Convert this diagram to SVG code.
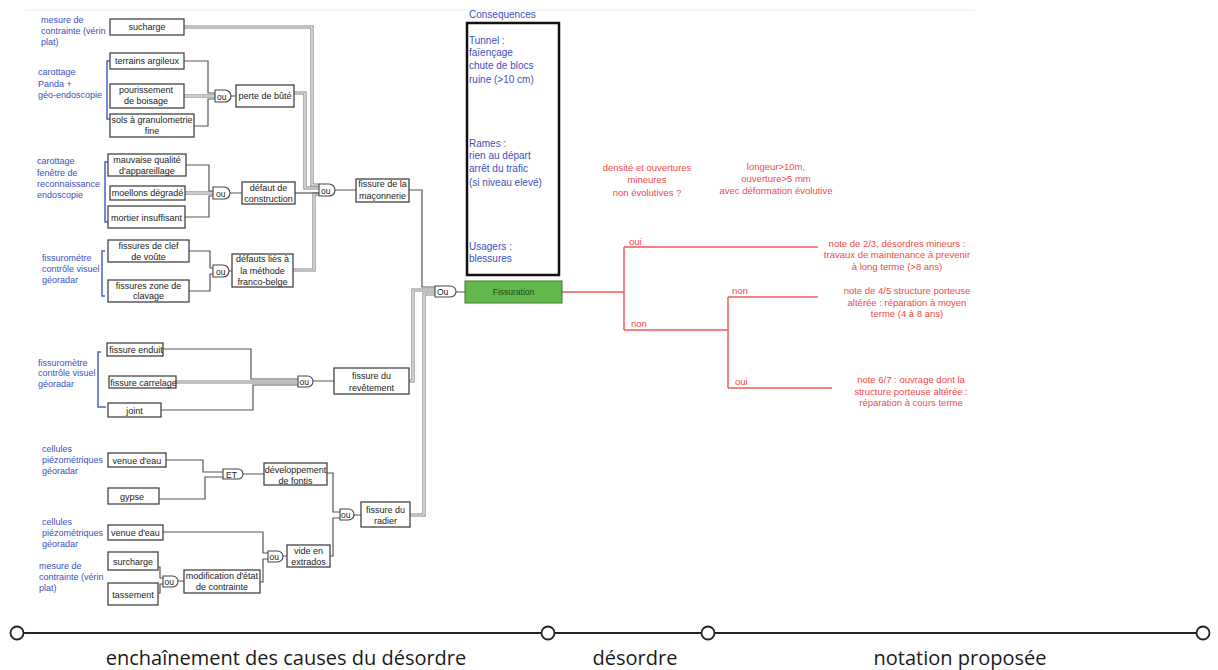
<svg xmlns="http://www.w3.org/2000/svg" xmlns:xlink="http://www.w3.org/1999/xlink" width="1218" height="670" viewBox="0 0 1218 670">
<style>
.bx{fill:#fff;stroke:#444;stroke-width:1.3}
.bt{font-family:"Liberation Sans",Arial,sans-serif;font-size:9px;fill:#222;text-anchor:middle}
.bl{font-family:"Liberation Sans",Arial,sans-serif;font-size:9px;fill:#3d4fbf}
.cq{font-family:"Liberation Sans",Arial,sans-serif;font-size:10px;fill:#3d4fbf}
.rd{font-family:"Liberation Sans",Arial,sans-serif;font-size:9.5px;fill:#f04848;text-anchor:middle}
.rl{font-family:"Liberation Sans",Arial,sans-serif;font-size:9.5px;fill:#f04848}
.gt{fill:#fff;stroke:#444;stroke-width:1.1}
.gx{font-family:"Liberation Sans",Arial,sans-serif;font-size:8.5px;fill:#222}
.c{fill:none;stroke:#555;stroke-width:1.2}
.do{fill:none;stroke:#808080;stroke-width:3.2}
.di{fill:none;stroke:#fff;stroke-width:1.2}
.br{fill:none;stroke:#4a62c8;stroke-width:1.5}
.r{fill:none;stroke:#f05a5a;stroke-width:1.5}
.tl{font-family:"Open Sans","Noto Sans",sans-serif;font-size:20px;fill:#1a1a1a;text-anchor:middle}
</style>
<defs>
  <path id="d1" d="M184 27 H312 V185 H319"/>
  <path id="d2" d="M184 96 H215"/>
  <path id="d3" d="M294 93 H305 V188 H319"/>
  <path id="d4" d="M185 193 H213"/>
  <path id="d5" d="M293 270 H314 V194 H319"/>
  <path id="d6" d="M176 382 H298"/>
  <path id="d7" d="M409 381 H413 V290 H435"/>
  <path id="d8" d="M410 515 H424 V294 H435"/>
</defs>
<line x1="25" y1="10" x2="975" y2="10" stroke="#ececec" stroke-width="1"/>

<g id="connectors">
  <use xlink:href="#d1" class="do"/>
  <use xlink:href="#d2" class="do"/>
  <use xlink:href="#d3" class="do"/>
  <use xlink:href="#d4" class="do"/>
  <use xlink:href="#d5" class="do"/>
  <use xlink:href="#d6" class="do"/>
  <use xlink:href="#d7" class="do"/>
  <use xlink:href="#d8" class="do"/>
  <use xlink:href="#d1" class="di"/>
  <use xlink:href="#d2" class="di"/>
  <use xlink:href="#d3" class="di"/>
  <use xlink:href="#d4" class="di"/>
  <use xlink:href="#d5" class="di"/>
  <use xlink:href="#d6" class="di"/>
  <use xlink:href="#d7" class="di"/>
  <use xlink:href="#d8" class="di"/>
  <path class="c" d="M184 61 H208 V93 H215"/>
  <path class="c" d="M194 126 H208 V99 H215"/>
  <path class="c" d="M186 165 H209 V191 H213"/>
  <path class="c" d="M185 217 H209 V196 H213"/>
  <path class="c" d="M295 193 H319"/>
  <path class="c" d="M189 251 H210 V268 H213"/>
  <path class="c" d="M189 291 H210 V274 H213"/>
  <path class="c" d="M409 190 H422 V287 H435"/>
  <path class="c" d="M163 349 H251 V379 H298"/>
  <path class="c" d="M161 410 H253 V385 H298"/>
  <path class="c" d="M166 460 H203 V472 H223"/>
  <path class="c" d="M159 499 H205 V477 H223"/>
  <path class="c" d="M327 473 H333 V512 H340"/>
  <path class="c" d="M330 556 H333 V518 H340"/>
  <path class="c" d="M163 532 H263 V553 H268"/>
  <path class="c" d="M260 582 H263 V559 H268"/>
  <path class="c" d="M158 567 H160 V578 H163"/>
  <path class="c" d="M158 593 H160 V584 H163"/>
  <path class="c" d="M231 96 H236 M230 193 H242 M229 271 H232 M335 190 H356 M313 381 H334 M456 292 H465 M243 474 H264 M354 515 H361 M283 556 H287 M178 581 H184"/>
  <path class="br" d="M110 61 H107 V119 H110"/>
  <path class="br" d="M108 162 H105 V222 H108"/>
  <path class="br" d="M105 251 H102 V296 H105"/>
  <path class="br" d="M101 352 H98 V407 H106"/>
  <path class="r" d="M562 292 H624 M624 247 V330 M624 247 H818 M624 330 H728 M728 297 V388 M728 297 H818 M728 388 H832"/>
</g>

<g id="labels-blue">
  <text class="bl" x="41" y="22.5">mesure de</text>
  <text class="bl" x="41" y="33.5">contrainte (vérin</text>
  <text class="bl" x="41" y="44.5">plat)</text>
  <text class="bl" x="38" y="75">carottage</text>
  <text class="bl" x="38" y="86.5">Panda +</text>
  <text class="bl" x="38" y="98">géo-endoscopie</text>
  <text class="bl" x="37" y="164">carottage</text>
  <text class="bl" x="37" y="175.5">fenêtre de</text>
  <text class="bl" x="37" y="187">reconnaissance</text>
  <text class="bl" x="37" y="197.5">endoscopie</text>
  <text class="bl" x="42" y="261">fissurométre</text>
  <text class="bl" x="42" y="272">contrôle visuel</text>
  <text class="bl" x="42" y="282.5">géoradar</text>
  <text class="bl" x="38" y="365.5">fissuromètre</text>
  <text class="bl" x="38" y="376">contrôle visuel</text>
  <text class="bl" x="38" y="387">géoradar</text>
  <text class="bl" x="42" y="451.5">cellules</text>
  <text class="bl" x="42" y="462.5">piézométriques</text>
  <text class="bl" x="42" y="474">géoradar</text>
  <text class="bl" x="42" y="525">cellules</text>
  <text class="bl" x="42" y="536">piézométriques</text>
  <text class="bl" x="42" y="546.5">géoradar</text>
  <text class="bl" x="39" y="569">mesure de</text>
  <text class="bl" x="39" y="580">contrainte (vérin</text>
  <text class="bl" x="39" y="591">plat)</text>
</g>

<g id="n-sucharge"><rect class="bx" x="110" y="19" width="74" height="16"/><text class="bt" x="147" y="30">sucharge</text></g>
<g id="n-terrains"><rect class="bx" x="110" y="53" width="74" height="16"/><text class="bt" x="147" y="64">terrains argileux</text></g>
<g id="n-pourissement"><rect class="bx" x="110" y="84" width="74" height="24"/><text class="bt" x="146" y="92.5">pourissement</text><text class="bt" x="146" y="104">de boisage</text></g>
<g id="n-sols"><rect class="bx" x="110" y="114" width="84" height="23"/><text class="bt" x="152" y="123">sols à granulometrie</text><text class="bt" x="152" y="134">fine</text></g>
<g id="g-perte"><path class="gt" d="M215 90 H225 A6 6 0 0 1 225 102 H215 Z"/><text class="gx" x="217" y="99.5">ou</text></g>
<g id="n-perte"><rect class="bx" x="236" y="85" width="58" height="22"/><text class="bt" x="265" y="99">perte de bûté</text></g>

<g id="n-mauvaise"><rect class="bx" x="108" y="154" width="78" height="22"/><text class="bt" x="147" y="162.5">mauvaise qualité</text><text class="bt" x="147" y="174">d'appareillage</text></g>
<g id="n-moellons"><rect class="bx" x="110" y="186" width="75" height="14"/><text class="bt" x="147.5" y="196">moellons dégradé</text></g>
<g id="n-mortier"><rect class="bx" x="108" y="206" width="77" height="22"/><text class="bt" x="146.5" y="221">mortier insuffisant</text></g>
<g id="g-defaut"><path class="gt" d="M213 187 H224 A6 6 0 0 1 224 199 H213 Z"/><text class="gx" x="216" y="196.5">ou</text></g>
<g id="n-defaut"><rect class="bx" x="242" y="182" width="53" height="22"/><text class="bt" x="268.5" y="190.5">défaut de</text><text class="bt" x="268.5" y="201.5">construction</text></g>

<g id="n-clef"><rect class="bx" x="108" y="240" width="81" height="22"/><text class="bt" x="148.5" y="249">fissures de clef</text><text class="bt" x="148.5" y="259.5">de voûte</text></g>
<g id="n-clavage"><rect class="bx" x="108" y="280" width="81" height="22"/><text class="bt" x="148.5" y="289">fissures zone de</text><text class="bt" x="148.5" y="299">clavage</text></g>
<g id="g-franco"><path class="gt" d="M213 265 H223 A6 6 0 0 1 223 277 H213 Z"/><text class="gx" x="216" y="274.5">ou</text></g>
<g id="n-franco"><rect class="bx" x="232" y="254" width="61" height="33"/><text class="bt" x="262.5" y="262">défauts liés à</text><text class="bt" x="262.5" y="273.5">la méthode</text><text class="bt" x="262.5" y="284.5">franco-belge</text></g>

<g id="g-maconnerie"><path class="gt" d="M319 184 H329 A6 6 0 0 1 329 196 H319 Z"/><text class="gx" x="321" y="193.5">ou</text></g>
<g id="n-maconnerie"><rect class="bx" x="356" y="179" width="53" height="23"/><text class="bt" x="382.5" y="187">fissure de la</text><text class="bt" x="382.5" y="198.5">maçonnerie</text></g>

<g id="n-enduit"><rect class="bx" x="107" y="343" width="56" height="13"/><text class="bt" x="136" y="352.5">fissure enduit</text></g>
<g id="n-carrelage"><rect class="bx" x="109" y="376" width="67" height="12"/><text class="bt" x="143.5" y="385.5">fissure carrelage</text></g>
<g id="n-joint"><rect class="bx" x="108" y="403" width="53" height="14"/><text class="bt" x="134.5" y="413.5">joint</text></g>
<g id="g-revetement"><path class="gt" d="M298 376 H307.5 A5.5 5.5 0 0 1 307.5 387 H298 Z"/><text class="gx" x="299.5" y="385">ou</text></g>
<g id="n-revetement"><rect class="bx" x="334" y="368" width="75" height="26"/><text class="bt" x="371.5" y="379">fissure du</text><text class="bt" x="371.5" y="390.5">revêtement</text></g>

<g id="n-venue1"><rect class="bx" x="108" y="453" width="58" height="14"/><text class="bt" x="137" y="463.5">venue d'eau</text></g>
<g id="n-gypse"><rect class="bx" x="108" y="488" width="51" height="16"/><text class="bt" x="132" y="500">gypse</text></g>
<g id="g-et"><path class="gt" d="M223 469 H238 A5 5 0 0 1 238 479 H223 Z"/><text class="gx" x="226" y="477.5">ET</text></g>
<g id="n-fontis"><rect class="bx" x="264" y="463" width="63" height="22"/><text class="bt" x="295.5" y="472.5">développement</text><text class="bt" x="295.5" y="483.5">de fontis</text></g>

<g id="n-venue2"><rect class="bx" x="108" y="525" width="55" height="15"/><text class="bt" x="135.5" y="536">venue d'eau</text></g>
<g id="n-surcharge"><rect class="bx" x="108" y="552" width="50" height="18"/><text class="bt" x="133" y="564.5">surcharge</text></g>
<g id="n-tassement"><rect class="bx" x="108" y="583" width="50" height="22"/><text class="bt" x="133" y="597.5">tassement</text></g>
<g id="g-modif"><path class="gt" d="M163 576 H172.5 A5.5 5.5 0 0 1 172.5 587 H163 Z"/><text class="gx" x="164.5" y="584.5">ou</text></g>
<g id="n-modif"><rect class="bx" x="184" y="570" width="76" height="23"/><text class="bt" x="222" y="579">modification d'état</text><text class="bt" x="222" y="590">de contrainte</text></g>
<g id="g-vide"><path class="gt" d="M268 551 H277.5 A5.5 5.5 0 0 1 277.5 562 H268 Z"/><text class="gx" x="269.5" y="559.5">ou</text></g>
<g id="n-vide"><rect class="bx" x="287" y="545" width="43" height="22"/><text class="bt" x="308.5" y="554">vide en</text><text class="bt" x="308.5" y="565">extrados</text></g>
<g id="g-radier"><path class="gt" d="M340 509 H348.5 A5.5 5.5 0 0 1 348.5 520 H340 Z"/><text class="gx" x="341" y="518">ou</text></g>
<g id="n-radier"><rect class="bx" x="361" y="502" width="49" height="25"/><text class="bt" x="385.5" y="512.5">fissure du</text><text class="bt" x="385.5" y="524">radier</text></g>

<g id="g-main"><path class="gt" d="M435 286 H450.5 A5.5 5.5 0 0 1 450.5 297 H435 Z"/><text class="gx" x="437" y="295">Ou</text></g>
<g id="n-fissuration"><rect x="465" y="281" width="97" height="22" fill="#62b84a" stroke="#3c7a2c" stroke-width="1"/><text x="513.5" y="295" font-family="Liberation Sans, Arial, sans-serif" font-size="8.5" fill="#1d4a1d" text-anchor="middle">Fissuration</text></g>

<g id="n-consequences">
  <text class="cq" x="469" y="17.5" font-size="9.5">Consequences</text>
  <rect x="467" y="23" width="92" height="252" fill="none" stroke="#111" stroke-width="2.5"/>
  <text class="cq" x="469" y="43.5">Tunnel :</text>
  <text class="cq" x="469" y="56">faïençage</text>
  <text class="cq" x="469" y="68.5">chute de blocs</text>
  <text class="cq" x="469" y="82.5">ruine (&gt;10 cm)</text>
  <text class="cq" x="469" y="147">Rames :</text>
  <text class="cq" x="469" y="158.5">rien au départ</text>
  <text class="cq" x="469" y="172">arrêt du trafic</text>
  <text class="cq" x="469" y="186">(si niveau elevé)</text>
  <text class="cq" x="469" y="250">Usagers :</text>
  <text class="cq" x="469" y="262">blessures</text>
</g>

<g id="notation">
  <text class="rd" x="647" y="170.5">densité et ouvertures</text>
  <text class="rd" x="647" y="183">mineures</text>
  <text class="rd" x="647" y="195.5">non évolutives ?</text>
  <text class="rd" x="776" y="169.5">longeur&gt;10m,</text>
  <text class="rd" x="776" y="182">ouverture&gt;5 mm</text>
  <text class="rd" x="776" y="194">avec déformation évolutive</text>
  <text class="rl" x="629" y="245">oui</text>
  <text class="rl" x="631" y="327">non</text>
  <text class="rl" x="732" y="293.5">non</text>
  <text class="rl" x="735" y="384.5">oui</text>
  <text class="rd" x="897" y="246.5">note de 2/3, désordres mineurs :</text>
  <text class="rd" x="897" y="258">travaux de maintenance à prevenir</text>
  <text class="rd" x="897" y="270">à long terme (&gt;8 ans)</text>
  <text class="rd" x="907" y="294">note de 4/5 structure porteuse</text>
  <text class="rd" x="907" y="305.5">altérée : réparation à moyen</text>
  <text class="rd" x="907" y="317">terme (4 à 8 ans)</text>
  <text class="rd" x="911" y="382.5">note 6/7 : ouvrage dont la</text>
  <text class="rd" x="911" y="395">structure porteuse altérée :</text>
  <text class="rd" x="911" y="406">réparation à cours terme</text>
</g>

<g id="timeline">
  <line x1="17" y1="633" x2="1203" y2="633" stroke="#222" stroke-width="2"/>
  <circle cx="17" cy="633" r="6.5" fill="#fff" stroke="#222" stroke-width="1.8"/>
  <circle cx="548" cy="633" r="6.5" fill="#fff" stroke="#222" stroke-width="1.8"/>
  <circle cx="708" cy="633" r="6.5" fill="#fff" stroke="#222" stroke-width="1.8"/>
  <circle cx="1203" cy="633" r="6.5" fill="#fff" stroke="#222" stroke-width="1.8"/>
  <text class="tl" x="286" y="665">enchaînement des causes du désordre</text>
  <text class="tl" x="635" y="665">désordre</text>
  <text class="tl" x="960" y="665">notation proposée</text>
</g>
</svg>
